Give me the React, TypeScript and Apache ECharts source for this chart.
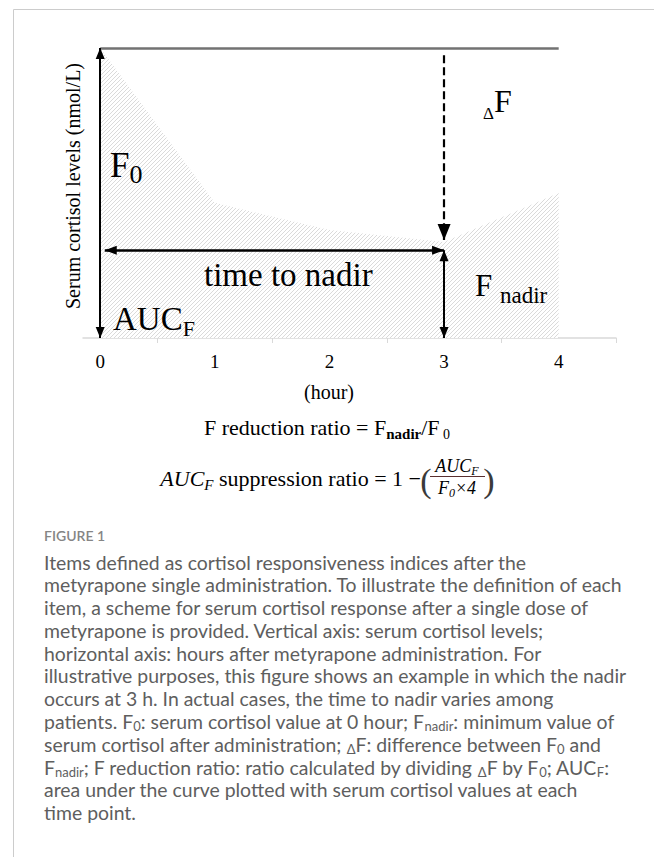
import React, { useEffect, useRef } from "react";
import * as echarts from "echarts";

// ---------- data ----------
const hours = [0, 1, 2, 3, 4];
const cortisol = [100, 46.6, 37.2, 33.1, 50];
const tickLabels = ["0", "1", "2", "3", "4"];
const tickMarks = [0.5, 1.5, 2.5, 3.5, 4.5];
const f0Value = 100;
const nadirHour = 3;
const dashedStart = 97.5;
const dashedTip = 33.8;
const nadirLevel = 30.3;
const timeArrowStart = 0.04;
const frameBottom = -2.5;

const yTitle = "Serum cortisol levels (nmol/L)";
const xTitle = "(hour)";
const figureLabel = "FIGURE 1";
const captionLines = [
  "Items defined as cortisol responsiveness indices after the",
  "metyrapone single administration. To illustrate the definition of each",
  "item, a scheme for serum cortisol response after a single dose of",
  "metyrapone is provided. Vertical axis: serum cortisol levels;",
  "horizontal axis: hours after metyrapone administration. For",
  "illustrative purposes, this figure shows an example in which the nadir",
  "occurs at 3 h. In actual cases, the time to nadir varies among",
  "patients. F{s|0}: serum cortisol value at 0 hour; F{s|nadir}: minimum value of",
  "serum cortisol after administration; {s|Δ}F: difference between F{s|0} and",
  "F{s|nadir}; F reduction ratio: ratio calculated by dividing {s|Δ}F by F{s|0}; AUC{s|F}:",
  "area under the curve plotted with serum cortisol values at each",
  "time point.",
];

const SERIF = "'Liberation Serif', 'Times New Roman', serif";
const SANS = "Lato, 'Open Sans', sans-serif";

function makeHatch(): HTMLCanvasElement {
  const c = document.createElement("canvas");
  c.width = 4;
  c.height = 4;
  const ctx = c.getContext("2d")!;
  ctx.fillStyle = "#ffffff";
  ctx.fillRect(0, 0, 4, 4);
  ctx.strokeStyle = "#d0d0d0";
  ctx.lineWidth = 0.8;
  ctx.beginPath();
  ctx.moveTo(-1, 5);
  ctx.lineTo(5, -1);
  ctx.moveTo(-1, 1);
  ctx.lineTo(1, -1);
  ctx.moveTo(3, 5);
  ctx.lineTo(5, 3);
  ctx.stroke();
  return c;
}

function fitSize(text: string, family: string, target: number): number {
  const ctx = document.createElement("canvas").getContext("2d")!;
  ctx.font = `100px ${family}`;
  const w = ctx.measureText(text.replace(/\{s\|([^}]*)\}/g, "$1")).width;
  return (100 * target) / w;
}

type Pt = [number, number];
function seg(
  from: Pt,
  to: Pt,
  lineStyle: any,
  symFrom: string,
  symTo: string,
  size: [number, number] = [10, 12]
) {
  const mk = (c: Pt, sym: string) => ({
    coord: c,
    symbol: sym,
    symbolSize: size,
    symbolOffset: [0, size[1] / 2],
    lineStyle,
  });
  return [mk(from, symFrom), mk(to, symTo)];
}

// rich-text helpers: main token + lowered subscript token
const mainTok = (size: number, lh: number, extra: any = {}) => ({
  fontFamily: SERIF,
  fontSize: size,
  lineHeight: lh,
  fill: "#000",
  ...extra,
});
const subTok = (size: number, extra: any = {}) => ({
  fontFamily: SERIF,
  fontSize: size,
  lineHeight: size,
  verticalAlign: "bottom",
  fill: "#000",
  ...extra,
});

export default function App() {
  const ref = useRef<HTMLDivElement>(null);

  useEffect(() => {
    const el = ref.current!;
    const chart = echarts.init(el, undefined, { renderer: "svg" });
    const hatch = makeHatch();

    const capSize = fitSize(captionLines[1], SANS, 579);
    const capLH = 22.8;

    const frameStyle = { color: "#727272", width: 2.5, type: "solid" };
    const arrowStyle = { color: "#000", width: 2, type: "solid" };
    const dashStyle = { color: "#000", width: 2.2, type: [8, 4] };

    const txt = (x: number, y: number, style: any) => ({
      type: "text",
      x,
      y,
      z: 100,
      silent: true,
      style: {
        fill: "#000",
        textAlign: style.align,
        textVerticalAlign: style.verticalAlign,
        ...style,
      },
    });

    const bigText = (x: number, y: number, text: string, rich: any, extra: any = {}) =>
      txt(x, y, {
        text,
        align: "left",
        verticalAlign: "middle",
        fontFamily: SERIF,
        rich,
        ...extra,
      });

    const option: any = {
      animation: false,
      backgroundColor: "#ffffff",
      grid: { left: 83, top: 48, width: 533, height: 290, containLabel: false },
      xAxis: {
        type: "value",
        min: -0.15,
        max: 4.5,
        axisLine: { show: true, lineStyle: { color: "#d9d9d9", width: 1.5 } },
        axisTick: {
          show: true,
          customValues: tickMarks,
          length: 5,
          lineStyle: { color: "#d9d9d9", width: 1 },
        },
        axisLabel: {
          customValues: hours,
          formatter: (v: number) => {
            const i = hours.indexOf(Math.round(v));
            return i >= 0 ? tickLabels[i] : "";
          },
          fontFamily: SERIF,
          fontSize: 19,
          color: "#000",
          margin: 14,
        },
        splitLine: { show: false },
      },
      yAxis: {
        type: "value",
        min: 0,
        max: 100,
        name: yTitle,
        nameLocation: "middle",
        nameRotate: 90,
        nameGap: 0,
        nameTextStyle: {
          fontFamily: SERIF,
          fontSize: 20,
          color: "#000",
          padding: [0, 0, 0, 14],
        },
        axisLine: { show: false },
        axisTick: { show: false },
        axisLabel: { show: false },
        splitLine: { show: false },
      },
      series: [
        {
          type: "line",
          data: hours.map((h, i) => [h, cortisol[i]]),
          symbol: "none",
          clip: false,
          lineStyle: { width: 0, opacity: 0 },
          areaStyle: {
            opacity: 1,
            color: {
              image: hatch,
              repeat: "repeat",
              imageWidth: 4,
              imageHeight: 4,
            },
          },
          markLine: {
            silent: true,
            animation: false,
            label: { show: false },
            emphasis: { disabled: true },
            data: [
              seg([0, f0Value], [4, f0Value], frameStyle, "none", "none"),
              seg([4, f0Value], [4, frameBottom], frameStyle, "none", "none"),
              seg([0, 0], [0, f0Value], arrowStyle, "triangle", "triangle", [9, 11]),
              seg(
                [nadirHour, dashedStart],
                [nadirHour, dashedTip],
                dashStyle,
                "none",
                "triangle",
                [13, 16]
              ),
              seg(
                [timeArrowStart, nadirLevel],
                [nadirHour, nadirLevel],
                { ...arrowStyle, width: 2.5 },
                "triangle",
                "triangle",
                [9, 12]
              ),
              seg([nadirHour, nadirLevel], [nadirHour, 0], arrowStyle, "triangle", "triangle", [9, 11]),
            ],
          },
        },
      ],
      graphic: [
        {
          type: "line",
          silent: true,
          z: 100,
          shape: { x1: 13.5, y1: 9.5, x2: 654, y2: 9.5 },
          style: { stroke: "#cccccc", lineWidth: 1 },
        },
        {
          type: "line",
          silent: true,
          z: 100,
          shape: { x1: 13.5, y1: 9.5, x2: 13.5, y2: 857 },
          style: { stroke: "#cccccc", lineWidth: 1 },
        },
        // in-plot labels
        bigText(110, 165, "{m|F}{s|0}", {
          m: mainTok(35, 45),
          s: subTok(26),
        }),
        bigText(483, 101, "{d|Δ}{m|F}", {
          m: mainTok(32, 41),
          d: subTok(17),
        }),
        bigText(204, 275, "time to nadir", undefined, { fontSize: 33 }),
        bigText(475, 285, "{m|F }{s|nadir}", {
          m: mainTok(31, 44),
          s: subTok(23),
        }),
        bigText(113, 319, "{m|AUC}{s|F}", {
          m: mainTok(33, 40),
          s: subTok(22),
        }),
        // x axis title
        txt(329, 392, {
          text: xTitle,
          align: "center",
          verticalAlign: "middle",
          fontFamily: SERIF,
          fontSize: 20,
        }),
        // formula 1
        txt(327, 427, {
          text: "{n|F reduction ratio = F}{b|nadir}{n|/F}{z| 0}",
          align: "center",
          verticalAlign: "middle",
          rich: {
            n: mainTok(22, 28),
            b: subTok(15, { fontWeight: "bold" }),
            z: subTok(14),
          },
        }),
        // formula 2, left part
        txt(421, 478, {
          text: "{i|AUC}{is|F}{n| suppression ratio = 1 −}",
          align: "right",
          verticalAlign: "middle",
          rich: {
            n: mainTok(22, 28),
            i: mainTok(22, 28, { fontStyle: "italic" }),
            is: subTok(15, { fontStyle: "italic" }),
          },
        }),
        txt(426, 480, {
          text: "(",
          align: "center",
          verticalAlign: "middle",
          fontFamily: SERIF,
          fontSize: 34,
          fill: "#3a3a3a",
        }),
        txt(489, 480, {
          text: ")",
          align: "center",
          verticalAlign: "middle",
          fontFamily: SERIF,
          fontSize: 34,
          fill: "#3a3a3a",
        }),
        txt(457, 466, {
          text: "{i|AUC}{is|F}",
          align: "center",
          verticalAlign: "middle",
          rich: {
            i: mainTok(18, 22, { fontStyle: "italic" }),
            is: subTok(12, { fontStyle: "italic" }),
          },
        }),
        {
          type: "line",
          silent: true,
          z: 100,
          shape: { x1: 430, y1: 476.5, x2: 485, y2: 476.5 },
          style: { stroke: "#5a2f2f", lineWidth: 1.2 },
        },
        txt(457, 488, {
          text: "{i|F}{is|0}{i|×4}",
          align: "center",
          verticalAlign: "middle",
          rich: {
            i: mainTok(18, 22, { fontStyle: "italic" }),
            is: subTok(12, { fontStyle: "italic" }),
          },
        }),
        // figure label
        txt(44, 535, {
          text: figureLabel,
          align: "left",
          verticalAlign: "middle",
          fontFamily: SANS,
          fontSize: 14,
          fontWeight: 600,
          fill: "#858585",
        }),
        // caption
        txt(44, 562 - capLH / 2, {
          text: captionLines.join("\n"),
          align: "left",
          verticalAlign: "top",
          fontFamily: SANS,
          fontSize: capSize,
          lineHeight: capLH,
          fill: "#5e5e5e",
          rich: {
            s: {
              fontFamily: SANS,
              fontSize: Math.round(capSize * 0.65),
              lineHeight: 12.5,
              verticalAlign: "bottom",
              fill: "#5e5e5e",
            },
          },
        }),
      ],
    };

    chart.setOption(option);
    return () => chart.dispose();
  }, []);

  return (
    <div
      ref={ref}
      style={{
        position: "absolute",
        left: 0,
        top: 0,
        width: 654,
        height: 857,
        background: "#ffffff",
      }}
    />
  );
}
